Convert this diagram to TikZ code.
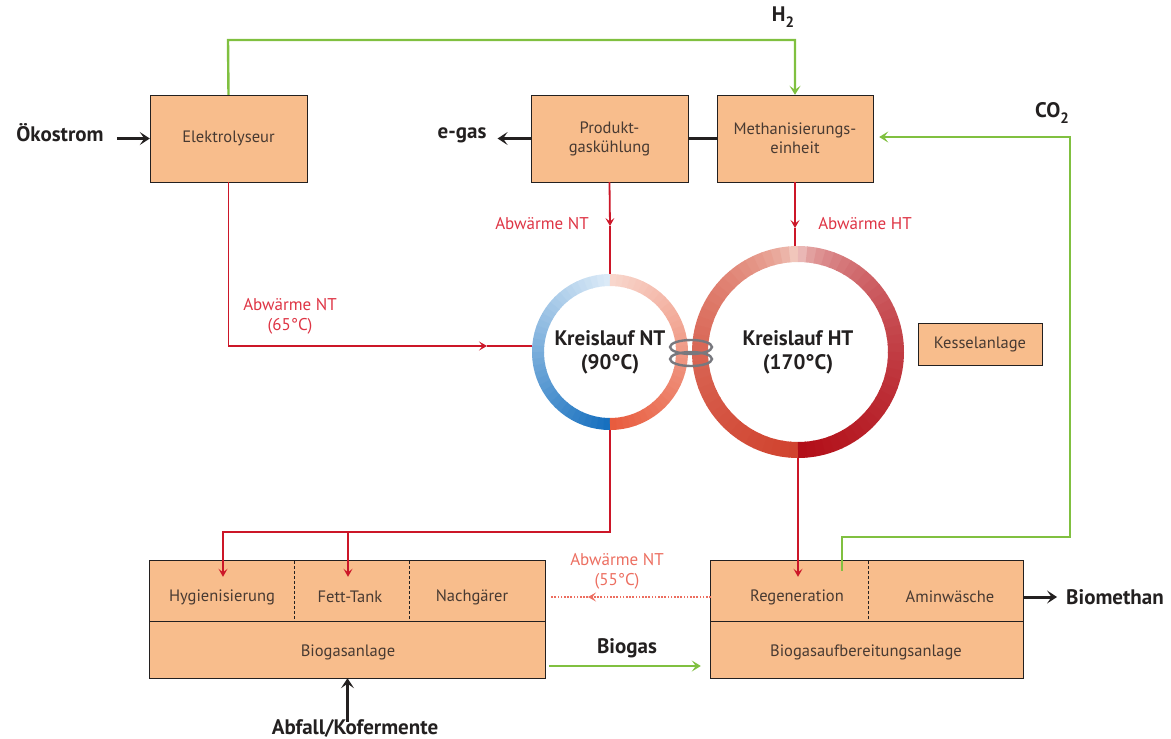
\documentclass[tikz,border=0pt]{standalone}
\usepackage{fontspec}
\setmainfont{PT Sans}
\usetikzlibrary{arrows.meta}

\definecolor{boxfill}{RGB}{248,189,140}
\definecolor{boxtext}{RGB}{72,58,50}
\definecolor{darkline}{RGB}{35,32,32}
\definecolor{redline}{RGB}{204,22,40}
\definecolor{redlabel}{RGB}{222,52,68}
\definecolor{salmonline}{RGB}{236,110,96}
\definecolor{greenline}{RGB}{128,192,64}
\definecolor{hxgrey}{RGB}{120,120,126}
\definecolor{ntTopL}{RGB}{222,236,248}
\definecolor{ntBotL}{RGB}{20,110,190}
\definecolor{ntTopR}{RGB}{248,216,206}
\definecolor{ntBotR}{RGB}{232,90,60}
\definecolor{htTopL}{RGB}{250,236,228}
\definecolor{htBotL}{RGB}{208,66,46}
\definecolor{htTopR}{RGB}{250,232,226}
\definecolor{htBotR}{RGB}{178,14,24}

\newcommand{\boxfont}{\fontsize{16.5}{19}\selectfont}
\newcommand{\tagfont}{\fontsize{21}{24}\selectfont\bfseries}
\newcommand{\heatfont}{\fontsize{17}{20}\selectfont}

\tikzset{
  unit/.style={draw=darkline, fill=boxfill, text=boxtext, font=\boxfont,
    align=center, inner sep=0pt, minimum height=87pt},
  cell/.style={fill=boxfill, inner sep=0pt, minimum height=60pt},
  celltext/.style={text=boxtext, font=\boxfont, inner sep=1pt},
  tag/.style={text=darkline, font=\tagfont, inner sep=1pt},
  heat/.style={text=redlabel, font=\heatfont, align=center, inner sep=1pt},
  ring/.style={circle, inner sep=0pt, text=darkline, font=\tagfont, align=center},
  redarrow/.style={redline, line width=1.8pt, -{Stealth[length=8pt,width=9pt,inset=3.5pt]}},
  redplain/.style={redline, line width=1.8pt},
  greenarrow/.style={greenline, line width=2.4pt, -{Stealth[length=9pt,width=11pt,inset=4pt]}},
  blackarrow/.style={darkline, line width=3pt, -{Stealth[length=10pt,width=13pt,inset=4.5pt]}},
}

\begin{document}
\begin{tikzpicture}[x=1pt, y=-1pt]
  \useasboundingbox (0,0) rectangle (1171,739);

  \node[unit, minimum width=157pt] (elek) at (228.5,138.5) {Elektrolyseur};
  \node[unit, minimum width=157pt] (prod) at (609.5,138.5) {Produkt-\\gaskühlung};
  \node[unit, minimum width=156pt] (meth) at (795,138.5) {Methanisierungs-\\einheit};
  \node[unit, minimum width=124pt, minimum height=42pt] (kessel) at (980,344) {Kesselanlage};

  \node[tag] (oeko) at (60,133) {Ökostrom};
  \node[tag] (egas) at (462,135) {e-gas};
  \node[tag] (h2) at (783,17) {H\raisebox{-6pt}{\fontsize{15}{15}\selectfont 2}};
  \node[tag] (co2) at (1052,113) {CO\raisebox{-6pt}{\fontsize{15}{15}\selectfont 2}};
  \node[tag] (biogas) at (627,648) {Biogas};
  \node[tag] (biometh) at (1115,597) {Biomethan};
  \node[tag] (abfall) at (355,728) {Abfall/Kofermente};

  % Kreislaeufe
  \node[ring, minimum size=156pt] (nt) at (610,352) {Kreislauf NT\\(90°C)};
  \node[ring, minimum size=212pt] (ht) at (798,352) {Kreislauf HT\\(170°C)};

  \foreach \i in {1,...,36} {
    \pgfmathsetmacro\p{100*(\i-0.5)/36}
    \pgfmathsetmacro\q{100*((\i-0.5)/36)^0.35}
    \pgfmathsetmacro\a{270-5*(\i-1)}
    \pgfmathsetmacro\b{max(90,270-5*\i-0.5)}
    \pgfmathsetmacro\c{-90+5*(\i-1)}
    \pgfmathsetmacro\d{min(90,-90+5*\i+0.5)}
    \colorlet{segL}{ntBotL!\p!ntTopL}
    \colorlet{segR}{ntBotR!\p!ntTopR}
    \draw[segL, line width=12pt] ([shift={(nt.center)}]\a:72) arc[start angle=\a, end angle=\b, radius=72];
    \draw[segR, line width=12pt] ([shift={(nt.center)}]\c:72) arc[start angle=\c, end angle=\d, radius=72];
    \colorlet{segL}{htBotL!\q!htTopL}
    \colorlet{segR}{htBotR!\q!htTopR}
    \draw[segL, line width=16pt] ([shift={(ht.center)}]\a:98) arc[start angle=\a, end angle=\b, radius=98];
    \draw[segR, line width=16pt] ([shift={(ht.center)}]\c:98) arc[start angle=\c, end angle=\d, radius=98];
  }

  \coordinate (hx) at (691,353);
  \draw[hxgrey, line width=2.4pt] ([yshift=6pt]hx) ellipse[x radius=21, y radius=7];
  \draw[hxgrey, line width=2.4pt] ([yshift=-6pt]hx) ellipse[x radius=21, y radius=7];

  % Biogasanlage
  \node[cell, minimum width=144pt] (hyg) at (222,591) {};
  \node[cell, minimum width=115pt] (fett) at (351.5,591) {};
  \node[cell, minimum width=136pt] (nach) at (477,591) {};
  \node[cell, minimum width=395pt, minimum height=57pt] (bga) at (347.5,649.5) {};
  \draw[darkline, line width=1.2pt] (hyg.north west) rectangle (bga.south east);
  \draw[darkline, line width=1.2pt] (hyg.south west) -- (nach.south east);
  \draw[darkline, line width=1pt, dash pattern=on 3pt off 2pt] (hyg.north east) -- (hyg.south east);
  \draw[darkline, line width=1pt, dash pattern=on 3pt off 2pt] (fett.north east) -- (fett.south east);
  \node[celltext] (thyg) at (222,597) {Hygienisierung};
  \node[celltext] (tfett) at (350,597) {Fett-Tank};
  \node[celltext] (tnach) at (472,597) {Nachgärer};
  \node[celltext] (tbga) at (348,652) {Biogasanlage};

  % Biogasaufbereitung
  \node[cell, minimum width=157pt] (reg) at (789.5,591) {};
  \node[cell, minimum width=155pt] (amin) at (945.5,591) {};
  \node[cell, minimum width=312pt, minimum height=57pt] (aufb) at (867,649.5) {};
  \draw[darkline, line width=1.2pt] (reg.north west) rectangle (aufb.south east);
  \draw[darkline, line width=1.2pt] (reg.south west) -- (amin.south east);
  \draw[darkline, line width=1pt, dash pattern=on 3pt off 2pt] (reg.north east) -- (reg.south east);
  \node[celltext] (treg) at (797,597) {Regeneration};
  \node[celltext] (tamin) at (950,597) {Aminwäsche};
  \node[celltext] (taufb) at (866,652) {Biogasaufbereitungsanlage};

  % schwarze Pfeile
  \draw[blackarrow] ([xshift=12pt]oeko.east |- elek.west) -- (elek.west);
  \draw[blackarrow] (prod.west) -- ([xshift=10pt]egas.east |- prod.west);
  \draw[darkline, line width=2.4pt] (prod.east) -- (meth.west);
  \draw[blackarrow] (tamin.east -| amin.east) -- ([xshift=-8pt]biometh.west);
  \draw[blackarrow] ([yshift=-4pt]abfall.north -| bga.south) -- (bga.south);

  % gruene Pfeile
  \coordinate (g1) at (228,40);
  \coordinate (g2) at (842,537);
  \coordinate (g3) at (1070,137);
  \coordinate (g4) at (600,666);
  \draw[greenarrow] (elek.north) -- (g1) -| (meth.north);
  \draw[greenarrow] ([yshift=-10pt]g2 |- reg.north) -- (g2) -| (g3) -- ([xshift=6pt]g3 -| meth.east);
  \draw[greenarrow] ([xshift=4pt]g4 -| bga.east) -- ([xshift=-10pt]g4 -| aufb.west);

  % Abwaerme
  \coordinate (a1) at (610,226);
  \coordinate (a2) at (795,228);
  \coordinate (r1) at (487,346);
  \coordinate (b1) at (223,532);
  \coordinate (b2) at (348,532);
  \coordinate (d1) at (588,597);
  \draw[redarrow] (prod.south) -- (a1);
  \draw[redplain] (a1) -- (nt.north);
  \draw[redarrow] (meth.south) -- (a2);
  \draw[redplain] (a2) -- (a2 |- ht.north);
  \draw[redarrow] (elek.south) |- (r1);
  \draw[redplain] (r1) -- (nt.west |- r1);
  \draw[redarrow] (nt.south) |- (b1) -- ([yshift=-16pt]b1 |- hyg.north);
  \draw[redarrow] (b2) -- ([yshift=-16pt]b2 |- fett.north);
  \draw[redarrow] (ht.south) -- ([yshift=-16pt]ht.south |- reg.north);
  \draw[salmonline, line width=1.6pt, dash pattern=on 1.6pt off 1.6pt, -{Stealth[length=8pt,width=9pt,inset=3.5pt]}] (d1 -| reg.west) -- (d1);
  \draw[salmonline, line width=1.6pt, dash pattern=on 1.6pt off 1.6pt] (d1) -- ([xshift=6pt]d1 -| nach.east);

  \node[heat] (l65) at (290,316) {Abwärme NT\\(65°C)};
  \node[heat] (lnt) at (542,224) {Abwärme NT};
  \node[heat] (lht) at (865,224) {Abwärme HT};
  \node[heat, text=salmonline] (l55) at (617,571) {Abwärme NT\\(55°C)};
\end{tikzpicture}
\end{document}
